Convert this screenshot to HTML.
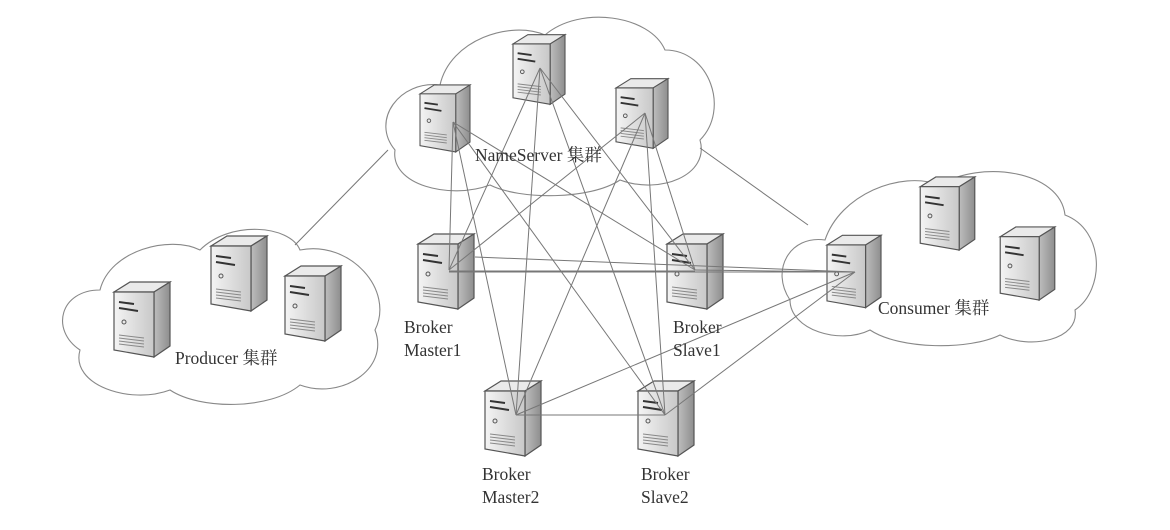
<!DOCTYPE html>
<html><head><meta charset="utf-8"><style>
html,body{margin:0;padding:0;background:#fff;}
svg text{font-family:"Liberation Serif","Noto Serif CJK SC",serif;fill:#333;font-size:17.5px;}
</style></head><body>
<svg width="1170" height="525" viewBox="0 0 1170 525" xmlns="http://www.w3.org/2000/svg">
<defs>
<linearGradient id="gf" x1="0" x2="1"><stop offset="0" stop-color="#f4f4f4"/><stop offset="1" stop-color="#c8c8c8"/></linearGradient>
<linearGradient id="gs" x1="0" x2="1"><stop offset="0" stop-color="#bdbdbd"/><stop offset="1" stop-color="#8e8e8e"/></linearGradient>
<symbol id="srv" viewBox="0 0 56 78" overflow="visible">
<polygon points="0,12 16,2 56,2 40,12" fill="#eaeaea" stroke="#555" stroke-width="1.2"/>
<polygon points="40,12 56,2 56,66 40,77" fill="url(#gs)" stroke="#555" stroke-width="1.2"/>
<polygon points="0,12 40,12 40,77 0,70" fill="url(#gf)" stroke="#555" stroke-width="1.2"/>
<line x1="5" y1="22" x2="20" y2="24" stroke="#333" stroke-width="2"/>
<line x1="5" y1="28" x2="24" y2="31" stroke="#333" stroke-width="2"/>
<circle cx="10" cy="42" r="2" fill="none" stroke="#555"/>
<g stroke="#888" stroke-width="1"><line x1="5" y1="55" x2="30" y2="58"/><line x1="5" y1="58" x2="30" y2="61"/><line x1="5" y1="61" x2="30" y2="64"/><line x1="5" y1="64" x2="30" y2="67"/></g>
</symbol>
</defs>
<g fill="none" stroke="#888" stroke-width="1.1">
<path d="M395 150 C370 120,400 80,440 85 C450 40,510 20,545 35 C580 5,650 15,665 50 C710 50,730 110,700 140 C710 175,660 195,620 180 C590 200,520 200,490 185 C450 200,390 185,395 150 Z"/>
<path d="M80 350 C50 330,60 290,100 290 C110 250,170 235,200 250 C230 220,290 225,300 250 C350 240,395 290,375 330 C390 370,340 400,300 385 C270 410,200 410,170 390 C130 405,70 385,80 350 Z"/>
<path d="M790 300 C770 270,790 235,825 240 C840 195,900 170,940 185 C980 160,1060 170,1065 215 C1105 230,1105 290,1075 310 C1080 340,1030 350,1000 335 C970 350,900 350,870 330 C840 345,790 330,790 300 Z"/>
</g>
<use href="#srv" x="420" y="80" width="50" height="76"/>
<use href="#srv" x="513" y="32" width="52" height="74"/>
<use href="#srv" x="616" y="75" width="52" height="76"/>
<use href="#srv" x="418" y="232" width="56" height="78"/>
<use href="#srv" x="667" y="232" width="56" height="78"/>
<use href="#srv" x="827" y="232" width="54" height="78"/>
<use href="#srv" x="920" y="175" width="55" height="76"/>
<use href="#srv" x="1000" y="225" width="55" height="76"/>
<use href="#srv" x="485" y="379" width="56" height="78"/>
<use href="#srv" x="638" y="379" width="56" height="78"/>
<use href="#srv" x="112" y="280" width="60" height="78"/>
<use href="#srv" x="210" y="234" width="58" height="78"/>
<use href="#srv" x="285" y="264" width="56" height="78"/>
<g stroke="#777" stroke-width="1">
<line x1="453" y1="122" x2="449" y2="270"/><line x1="453" y1="122" x2="695" y2="270"/><line x1="453" y1="122" x2="516" y2="415"/><line x1="453" y1="122" x2="665" y2="415"/>
<line x1="540" y1="68" x2="449" y2="270"/><line x1="540" y1="68" x2="695" y2="270"/><line x1="540" y1="68" x2="516" y2="415"/><line x1="540" y1="68" x2="665" y2="415"/>
<line x1="645" y1="113" x2="449" y2="270"/><line x1="645" y1="113" x2="695" y2="270"/><line x1="645" y1="113" x2="516" y2="415"/><line x1="645" y1="113" x2="665" y2="415"/>
<line x1="449" y1="271" x2="695" y2="271"/><line x1="475" y1="257" x2="855" y2="272"/><line x1="449" y1="272" x2="855" y2="272"/>
<line x1="695" y1="270" x2="855" y2="272"/>
<line x1="855" y1="272" x2="516" y2="415"/><line x1="855" y1="272" x2="665" y2="415"/>
<line x1="516" y1="415" x2="665" y2="415"/>
<line x1="808" y1="225" x2="700" y2="148"/><line x1="295" y1="245" x2="388" y2="150"/>
</g>
<text x="475" y="161">NameServer 集群</text>
<text x="175" y="364">Producer 集群</text>
<text x="878" y="314">Consumer 集群</text>
<text x="404" y="333">Broker</text><text x="404" y="356">Master1</text>
<text x="673" y="333">Broker</text><text x="673" y="356">Slave1</text>
<text x="482" y="480">Broker</text><text x="482" y="503">Master2</text>
<text x="641" y="480">Broker</text><text x="641" y="503">Slave2</text>
</svg>
</body></html>
